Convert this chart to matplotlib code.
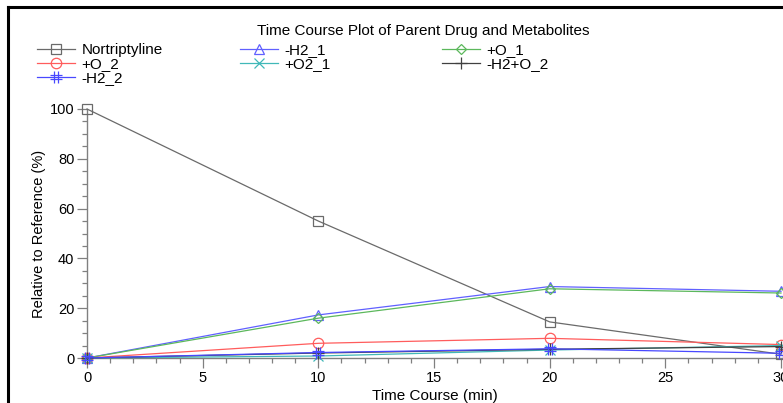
import matplotlib
matplotlib.use("Agg")
import matplotlib.pyplot as plt
from matplotlib.lines import Line2D
from matplotlib.path import Path
from matplotlib.ticker import MultipleLocator

plt.rcParams['font.family'] = ['Liberation Sans', 'DejaVu Sans']

time_min = [0, 10, 20, 30]
nortriptyline = [100, 55, 14.5, 1.5]
h2_1 = [0, 17.3, 28.7, 26.8]
o_1 = [0, 16.0, 27.8, 26.1]
o_2 = [0, 5.9, 7.9, 5.4]
o2_1 = [0, 0.8, 3.2, 5.0]
h2_o_2 = [0, 2.0, 3.5, 4.6]
h2_2 = [0, 2.2, 3.7, 1.9]

hash_marker = Path(
    [(-0.35, -1), (-0.35, 1), (0.35, -1), (0.35, 1),
     (-1, -0.35), (1, -0.35), (-1, 0.35), (1, 0.35)],
    [Path.MOVETO, Path.LINETO, Path.MOVETO, Path.LINETO,
     Path.MOVETO, Path.LINETO, Path.MOVETO, Path.LINETO])

series = [
    ("Nortriptyline", nortriptyline, "#6a6a6a", "s", 7),
    ("-H2_1", h2_1, "#6060ff", "^", 7),
    ("+O_1", o_1, "#5cb85c", "D", 5.5),
    ("+O_2", o_2, "#ff5c5c", "o", 7.5),
    ("+O2_1", o2_1, "#40b8b8", "x", 7),
    ("-H2+O_2", h2_o_2, "#404040", "+", 8),
    ("-H2_2", h2_2, "#4848ff", hash_marker, 8),
]

W, H = 783, 403
FS = 11
fig = plt.figure(figsize=(W / 100, H / 100), dpi=100)
ax = fig.add_axes([87 / W, (H - 358) / H, 1 - 87 / W, (358 - 109) / H])

handles = {}
for name, vals, col, mk, ms in series:
    ln, = ax.plot(time_min, vals, color=col, lw=0.9, marker=mk, ms=ms,
                  mfc='none', mec=col, mew=0.9, clip_on=False, zorder=3)
    handles[name] = ln

ax.set_xlim(0, (W - 87) / ((781 - 87) / 30))
ax.set_ylim(0, 100)
ax.xaxis.set_major_locator(MultipleLocator(5))
ax.xaxis.set_minor_locator(MultipleLocator(1))
ax.yaxis.set_major_locator(MultipleLocator(20))
ax.yaxis.set_minor_locator(MultipleLocator(5))
for s in ("top", "right"):
    ax.spines[s].set_visible(False)
for s in ("left", "bottom"):
    ax.spines[s].set_color("#808080")
    ax.spines[s].set_linewidth(1.0)
ax.tick_params(which='major', length=7, width=0.9, color="#808080",
               labelsize=10.5, pad=2, direction='out')
ax.tick_params(which='minor', length=3.5, width=0.9, color="#808080", direction='out')

ax.set_xlabel("Time Course (min)", fontsize=FS, labelpad=3)
ax.set_ylabel("Relative to Reference (%)", fontsize=10.5, labelpad=3)

fig.text(423 / W, 1 - 31 / H, "Time Course Plot of Parent Drug and Metabolites",
         ha='center', va='center', fontsize=FS)

cols = [
    (["Nortriptyline", "+O_2", "-H2_2"], 37),
    (["-H2_1", "+O2_1"], 240),
    (["+O_1", "-H2+O_2"], 442),
]
for names, x0 in cols:
    fig.legend([handles[n] for n in names], names, loc='upper left',
               bbox_to_anchor=(x0 / W, 1 - 43 / H), frameon=False,
               fontsize=FS, borderpad=0, borderaxespad=0,
               handlelength=2.5, handletextpad=0.4, labelspacing=0.0,
               numpoints=1)

# black frame (left and top edges visible)
fig.add_artist(Line2D([8 / W, 8 / W], [0, 1 - 7 / H], color='black', lw=2.2,
                      transform=fig.transFigure))
fig.add_artist(Line2D([8 / W, 1], [1 - 7 / H, 1 - 7 / H], color='black', lw=2.2,
                      transform=fig.transFigure))

fig.savefig("out.png", dpi=100)
